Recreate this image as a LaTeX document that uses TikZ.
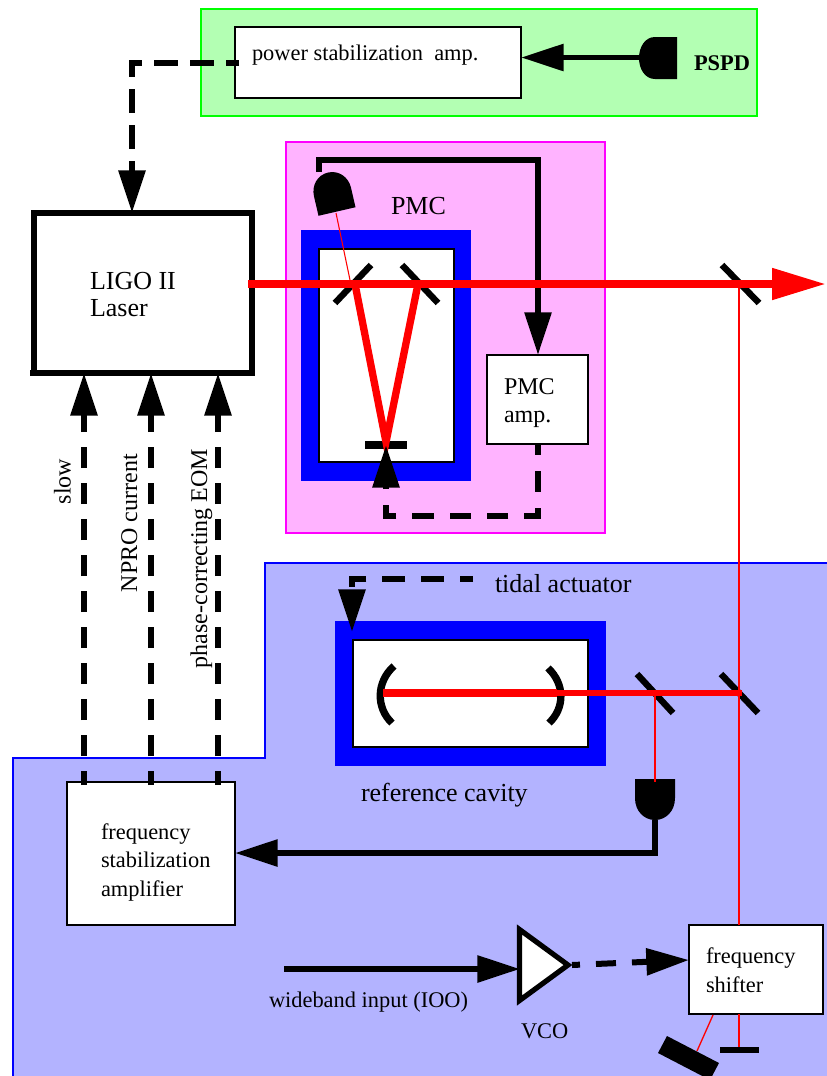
\documentclass[tikz,border=0pt]{standalone}
\usepackage{fontspec}
\setmainfont{Liberation Serif}
\usetikzlibrary{arrows.meta,fit}
\definecolor{grn}{HTML}{B3FFB3}
\definecolor{grnline}{HTML}{00FF00}
\definecolor{mag}{HTML}{FFB3FF}
\definecolor{magline}{HTML}{FF00FF}
\definecolor{blu}{HTML}{B3B3FF}
\definecolor{bluline}{HTML}{0000FF}
\definecolor{beam}{HTML}{FF0000}
\tikzset{
  px/.style={x=0.75pt,y=-0.75pt},
  whitebox/.style={draw=black,fill=white,line width=1.5pt,inner sep=0pt,outer sep=0pt,rectangle},
  region/.style={line width=1.5pt},
  frameblue/.style={fill=bluline,draw=none},
  tipk/.style={-{Triangle[length=32pt,width=19.5pt]}},
  sig/.style={draw=black,line width=4.4pt,tipk},
  ctl/.style={draw=black,line width=4.5pt,tipk,dash pattern=on 15.75pt off 11.25pt},
  bar/.style={draw=black,line width=4.8pt},
  lab/.style={anchor=base west,inner sep=0pt,outer sep=0pt,text=black},
  fA/.style={font=\fontsize{16.8}{20}\selectfont},
  fB/.style={font=\fontsize{18}{20}\selectfont},
  fC/.style={font=\fontsize{19.5}{20}\selectfont},
}
\begin{document}
\begin{tikzpicture}[px]
\useasboundingbox (0,0) rectangle (827,1076);
\clip (0,0) rectangle (827,1076);
% regions
\fill[white] (0,0) rectangle (827,1076);
\filldraw[fill=grn,draw=grnline,region] (201,9) rectangle (757,116);
\filldraw[fill=mag,draw=magline,region] (286,142) rectangle (605,533);
\filldraw[fill=blu,draw=bluline,region] (840,563) -- (265,563) -- (265,758) -- (13,758) -- (13,1090) -- (840,1090) -- cycle;
% PMC and reference cavity housings
\fill[frameblue] (301,230) rectangle (471,481);
\node (pmcin) [whitebox,fit={(319,249) (454,462)}] {};
\fill[frameblue] (335,621) rectangle (606,766);
\node (refin) [whitebox,fit={(353,640) (588,747)}] {};
% boxes
\node (laser) [rectangle,draw=black,line width=4.5pt,inner sep=0pt,outer sep=0pt,fit={(34,213) (252,373)}] {};
\draw[black,line width=4.5pt] (30,373) -- (255,373);
\node (psa) [whitebox,fit={(235,27) (521,98)}] {};
\node (pmcamp) [whitebox,fit={(487,355) (588,444)}] {};
\node (fsa) [whitebox,fit={(67,782) (235,925)}] {};
\node (shift) [whitebox,line width=1.9pt,fit={(689,925) (823,1014)}] {};
% named points
\coordinate (pspd) at (639,57.5);
\coordinate (pout) at (239,63);
\coordinate (pcor) at (132,63);
\coordinate (pmcdet) at (319,172);
\coordinate (pcor1) at (319,160);
\coordinate (pcor2) at (538,160);
\coordinate (ampdn) at (538,443);
\coordinate (pcor3) at (538,516);
\coordinate (pcor4) at (386,516);
\coordinate (pzt) at (386,445);
\coordinate (tidal) at (473,579);
\coordinate (tcor) at (352,579);
\coordinate (ttip) at (352,632);
\coordinate (refdet) at (655,820);
\coordinate (rcor) at (655,853);
\coordinate (wbin) at (284,969);
\coordinate (vcoin) at (520,969);
\coordinate (vcoout) at (572,965);
\coordinate (beamA) at (248,284);
\coordinate (beamB) at (826,284);
\coordinate (pick) at (739,284);
\coordinate (pick3) at (655,693);
% mirrors
\draw[bar] (371,265) -- (335,303);
\draw[bar] (402,265) -- (438,303);
\draw[black,line width=6pt] (365,444.7) -- (407,444.7);
\draw[bar] (722,265) -- (759,303);
\draw[bar] (637,674) -- (673,713);
\draw[bar] (721,674) -- (758,713);
\draw[black,line width=5.5pt] (394,666) .. controls (376,682) and (376,708) .. (392,723);
\draw[black,line width=5.5pt] (548,668) .. controls (565,684) and (565,708) .. (549,723);
\draw[black,line width=4.5pt] (720,1050) -- (759,1050);
% detectors
\fill[black] (677,37) -- (655,37) .. controls (645,37) and (639,47) .. (639,58) .. controls (639,69) and (645,79) .. (655,79) -- (677,79) -- cycle;
\begin{scope}[shift={(337,211.5)},rotate=13]
\fill[black] (-19,0) -- (-19,-20) .. controls (-19,-31) and (-11,-40) .. (0,-40) .. controls (11,-40) and (19,-31) .. (19,-20) -- (19,0) -- cycle;
\end{scope}
\fill[black] (635,779) -- (675,779) -- (675,798) .. controls (675,811) and (666,820) .. (655,820) .. controls (644,820) and (635,811) .. (635,798) -- cycle;
% tilted block
\fill[black] (667,1036) -- (658,1053) -- (710,1080) -- (719,1063) -- cycle;
% black connector crossed by the main beam
\draw[sig] (pmcdet) -- (pcor1) -- (pcor2) -- (pmcamp.north -| pcor2);
% beams
\draw[beam,line width=1.5pt] (pick) -- (shift.north -| pick);
\draw[beam,line width=1.5pt] (pick3) -- (refdet |- 0,782);
\draw[beam,line width=1.5pt] (shift.south -| pick) -- (739,1047);
\draw[beam,line width=1pt] (713,1015) -- (697,1051);
\draw[beam,line width=0.8pt] (336,213) -- (350,280);
\draw[beam,line width=5.5pt,line join=miter] (355,284) -- (386,442) -- (418,284);
\draw[beam,line width=6pt] (383,693) -- (557,693);
\draw[beam,line width=4.6pt] (557,693) -- (742,693);
\draw[beam,line width=6pt,-{Triangle[length=40.5pt,width=22.5pt]}] (beamA) -- (beamB);
% connectors
\draw[sig] (pspd) -- (psa.east |- pspd);
\draw[sig] (refdet) -- (rcor) -- (fsa.east |- rcor);
\draw[sig] (wbin) -- (vcoin);
\draw[ctl,dash pattern=on 18pt off 9pt,dash phase=8pt] (pout) -- (pcor) -- (laser.north -| pcor);
\draw[ctl,dash pattern=on 16pt off 12pt,dash phase=7pt] (ampdn) -- (pcor3) -- (pcor4) -- (pzt);
\draw[ctl,dash pattern=on 17pt off 12pt,dash phase=7pt] (tidal) -- (tcor) -- (ttip);
\draw[ctl,dash phase=5.25pt] (84,785) -- (laser.south -| 84,0);
\draw[ctl,dash phase=5.25pt] (151,785) -- (laser.south -| 151,0);
\draw[ctl,dash phase=5.25pt] (218,785) -- (laser.south -| 218,0);
% VCO
\coordinate (va) at (519.5,929.5);
\coordinate (vb) at (519.5,1000.5);
\coordinate (vc) at (568,965);
\filldraw[fill=white,draw=black,line width=3.9pt,line join=miter] (va) -- (vb) -- (vc) -- cycle;
\draw[ctl,dash pattern=on 15pt off 12pt,dash phase=9pt] (vcoout) -- (shift.west |- 0,960);
% labels
\node (t1) [lab,fA] at (252,60) {power stabilization\ \ amp.};
\node (t2) [lab,fA,font=\fontsize{16.8}{20}\selectfont\bfseries] at (694,70) {PSPD};
\node (t3) [lab,fC] at (391,214) {PMC};
\node (t4) [lab,fB] at (504,394) {PMC};
\node (t5) [lab,fB] at (504,422) {amp.};
\node (t6) [lab,fC] at (90,289) {LIGO II};
\node (t7) [lab,fC] at (90,316) {Laser};
\node (t8) [lab,fC] at (495,592) {tidal actuator};
\node (t9) [lab,fC] at (361,801) {reference cavity};
\node (t10) [lab,fA] at (101,839) {frequency};
\node (t11) [lab,fA] at (101,867) {stabilization};
\node (t12) [lab,fA] at (101,896) {amplifier};
\node (t13) [lab,fA] at (269,1007) {wideband input (IOO)};
\node (t14) [lab,fA] at (521,1038) {VCO};
\node (t15) [lab,fA] at (706,963) {frequency};
\node (t16) [lab,fA] at (706,992) {shifter};
\node (t17) [lab,fB,rotate=90] at (70.7,504) {slow};
\node (t18) [lab,fB,rotate=90] at (137,592) {NPRO current};
\node (t19) [lab,fB,rotate=90] at (207,668) {phase-correcting EOM};
\end{tikzpicture}
\end{document}
